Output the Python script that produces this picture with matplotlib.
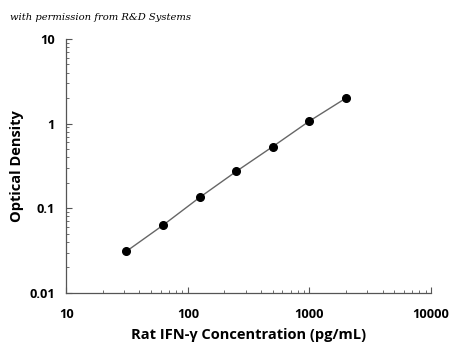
import matplotlib
matplotlib.use("Agg")
import matplotlib.pyplot as plt
from matplotlib.ticker import LogLocator, FixedLocator, FixedFormatter, NullFormatter

conc = [31.25, 62.5, 125, 250, 500, 1000, 2000]
od = [0.031, 0.063, 0.134, 0.272, 0.535, 1.07, 2.0]
xticks = [10, 100, 1000, 10000]
xticklabels = ["10", "100", "1000", "10000"]
yticks = [0.01, 0.1, 1, 10]
yticklabels = ["0.01", "0.1", "1", "10"]

plt.rcParams['font.family'] = ['Open Sans', 'DejaVu Sans']

fig = plt.figure(figsize=(4.5, 3.5), dpi=100)
ax = fig.add_axes([0.147, 0.163, 0.811, 0.726])
ax.plot(conc, od, color='#666666', lw=1.0, zorder=2)
ax.plot(conc, od, 'o', color='black', ms=5.5, zorder=3)
ax.set_xscale('log')
ax.set_yscale('log')
ax.set_xlim(10, 10000)
ax.set_ylim(0.01, 10)
ax.xaxis.set_major_locator(FixedLocator(xticks))
ax.xaxis.set_major_formatter(FixedFormatter(xticklabels))
ax.yaxis.set_major_locator(FixedLocator(yticks))
ax.yaxis.set_major_formatter(FixedFormatter(yticklabels))
ax.xaxis.set_minor_locator(LogLocator(base=10, subs=range(2, 10)))
ax.yaxis.set_minor_locator(LogLocator(base=10, subs=range(2, 10)))
ax.xaxis.set_minor_formatter(NullFormatter())
ax.yaxis.set_minor_formatter(NullFormatter())
for s in ['top', 'right']:
    ax.spines[s].set_visible(False)
for s in ['left', 'bottom']:
    ax.spines[s].set_color('#555555')
    ax.spines[s].set_linewidth(0.9)
ax.tick_params(which='major', direction='in', length=4, width=0.8, color='#555555', labelsize=9.2)
ax.tick_params(axis='x', which='major', pad=11)
ax.tick_params(axis='y', which='major', pad=8)
ax.tick_params(which='minor', direction='in', length=2, width=0.6, color='#555555')
for lab in ax.get_xticklabels() + ax.get_yticklabels():
    lab.set_fontweight('bold')
ax.set_xlabel('Rat IFN-γ Concentration (pg/mL)', fontsize=10.5, fontweight='bold', labelpad=5)
ax.set_ylabel('Optical Density', fontsize=10.5, fontweight='bold', labelpad=4)
fig.text(0.022, 0.951, 'with permission from R&D Systems', fontsize=7.2, style='italic',
         family='DejaVu Serif', va='center', ha='left')
fig.savefig('out.png', dpi=100)
